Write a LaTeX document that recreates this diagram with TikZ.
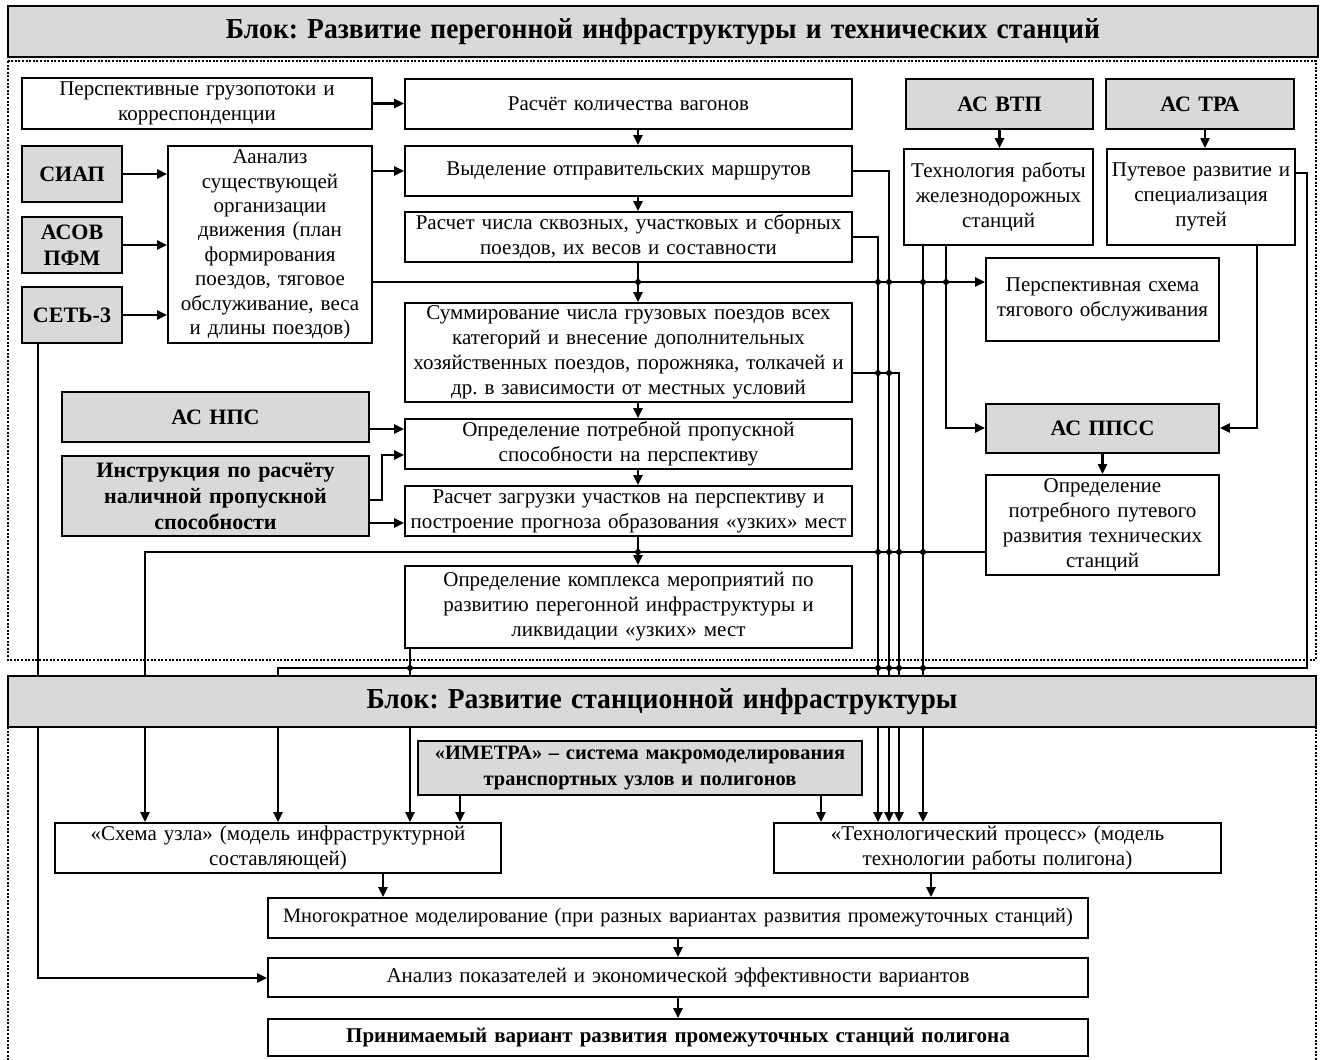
\documentclass[tikz,border=0pt]{standalone}
\usepackage{fontspec}
\setmainfont{Liberation Serif}
\usetikzlibrary{arrows.meta,backgrounds}
\definecolor{boxgray}{RGB}{217,217,217}

% rectangle node given by its corners: name, x1, y1, x2, y2, style, text
\newcommand\pbox[7]{%
  \pgfmathsetmacro\bw{(#4-#2)*0.5}%
  \pgfmathsetmacro\bh{(#5-#3)*0.5}%
  \pgfmathsetmacro\tw{(#4-#2)*0.5-2}%
  \node[#6, minimum width=\bw pt, minimum height=\bh pt, text width=\tw pt]
    (#1) at ({(#2+#4)/2},{(#3+#5)/2}) {#7};}
% slightly condensed title line
\newcommand\titleline[1]{\scalebox{0.95}[1]{#1}}

\tikzset{
  box/.style={draw, line width=0.9pt, fill=white, align=center, inner xsep=1pt, inner ysep=0pt,
    font=\fontsize{10.5}{12.5}\selectfont},
  gbox/.style={box, fill=boxgray, font=\bfseries\fontsize{11}{13}\selectfont},
  hdr/.style={box, line width=0.8pt, fill=boxgray, font=\bfseries\fontsize{14.5}{17}\selectfont},
  link/.style={line width=1.1pt},
  arr/.style={link, -{Triangle[length=5pt,width=4.5pt]}},
  frame/.style={line width=0.7pt, dash pattern=on 1pt off 0.8pt},
  jn/.style={fill, circle, inner sep=0pt, minimum size=3pt}
}

\begin{document}
\frenchspacing
\begin{tikzpicture}[x=0.5pt,y=-0.5pt]
\useasboundingbox (0,0) rectangle (1320,1059);

% ---------- block headers ----------
\pbox{h1}{8}{6}{1318}{57}{hdr}{\titleline{Блок: Развитие перегонной инфраструктуры и технических станций}}
\pbox{h2}{8}{676}{1316}{727}{hdr}{\titleline{Блок: Развитие станционной инфраструктуры}}

% ---------- upper block ----------
\pbox{pgp}{22}{78}{372}{129}{box}{Перспективные грузопотоки и\\корреспонденции}
\pbox{rkv}{405}{79}{852}{129}{box}{Расчёт количества вагонов}
\pbox{siap}{22}{146}{122}{202}{gbox}{СИАП}
\pbox{asov}{22}{217}{122}{273}{gbox}{АСОВ\\ПФМ}
\pbox{set3}{22}{287}{122}{343}{gbox}{СЕТЬ-3}
\pbox{anl}{168}{146}{372}{343}{box, font=\fontsize{10.5}{12.2}\selectfont}{Аанализ\\существующей\\организации\\движения (план\\формирования\\поездов, тяговое\\обслуживание, веса\\и длины поездов)}
\pbox{vyd}{405}{146}{852}{196}{box}{Выделение отправительских маршрутов}
\pbox{rch}{405}{212}{852}{262}{box}{Расчет числа сквозных, участковых и сборных\\поездов, их весов и составности}
\pbox{sum}{405}{303}{852}{402}{box}{Суммирование числа грузовых поездов всех\\категорий и внесение дополнительных\\хозяйственных поездов, порожняка, толкачей и\\др. в зависимости от местных условий}
\pbox{npc}{62}{392}{369}{442}{gbox}{АС НПС}
\pbox{instr}{62}{456}{369}{536}{gbox}{Инструкция по расчёту\\наличной пропускной\\способности}
\pbox{opp}{405}{419}{852}{469}{box}{Определение потребной пропускной\\способности на перспективу}
\pbox{rzg}{405}{486}{852}{536}{box}{Расчет загрузки участков на перспективу и\\построение прогноза образования «узких» мест}
\pbox{okm}{405}{566}{852}{648}{box}{Определение комплекса мероприятий по\\развитию перегонной инфраструктуры и\\ликвидации «узких» мест}
\pbox{vtp}{906}{79}{1093}{129}{gbox}{АС ВТП}
\pbox{tra}{1106}{79}{1294}{129}{gbox}{АС ТРА}
\pbox{trs}{904}{149}{1093}{245}{box}{Технология работы\\железнодорожных\\станций}
\pbox{ptr}{1107}{149}{1295}{245}{box}{Путевое развитие и\\специализация\\путей}
\pbox{pst}{986}{258}{1219}{341}{box}{Перспективная схема\\тягового обслуживания}
\pbox{ppss}{986}{404}{1219}{453}{gbox}{АС ППСС}
\pbox{opr}{986}{475}{1219}{575}{box}{Определение\\потребного путевого\\развития технических\\станций}

% ---------- lower block ----------
\pbox{imetra}{418}{741}{862}{795}{gbox, font=\bfseries\fontsize{10.2}{13}\selectfont}{«ИМЕТРА» – система макромоделирования\\транспортных узлов и полигонов}
\pbox{suz}{55}{823}{501}{873}{box}{«Схема узла» (модель инфраструктурной\\составляющей)}
\pbox{tpr}{774}{823}{1221}{873}{box}{«Технологический процесс» (модель\\технологии работы полигона)}
\pbox{mnm}{268}{898}{1088}{938}{box, font=\fontsize{10.2}{12}\selectfont}{Многократное моделирование (при разных вариантах развития промежуточных станций)}
\pbox{apk}{268}{958}{1088}{997}{box}{Анализ показателей и экономической эффективности вариантов}
\pbox{prv}{268}{1019}{1088}{1056}{box, font=\bfseries\fontsize{10.5}{12.5}\selectfont}{Принимаемый вариант развития промежуточных станций полигона}

\begin{pgfonlayer}{background}
% block frames
\draw[frame] (8,61) rectangle (1316,660);
\draw[frame] (8,727) rectangle (1316,1080);

% inputs on the left
\draw[arr] (pgp.east) -- (pgp.east -| rkv.west);
\draw[arr] (siap.east) -- (siap.east -| anl.west);
\draw[arr] (asov.east) -- (asov.east -| anl.west);
\draw[arr] (set3.east) -- (set3.east -| anl.west);
\draw[arr] (vyd.west -| anl.east) -- (vyd.west);
\draw[arr] (anl.east |- 0,282) -- (pst.west |- 0,282);
\draw[arr] (npc.east |- 0,429) -- (opp.west |- 0,429);
\draw[arr] (instr.east |- 0,500) -- (382,500) -- (382,455) -- (opp.west |- 0,455);
\draw[arr] (instr.east |- 0,523) -- (rzg.west |- 0,523);

% main column
\draw[arr] (rkv.south -| 638,0) -- (vyd.north -| 638,0);
\draw[arr] (vyd.south -| 638,0) -- (rch.north -| 638,0);
\draw[arr] (rch.south -| 638,0) -- (sum.north -| 638,0);
\draw[arr] (sum.south -| 638,0) -- (opp.north -| 638,0);
\draw[arr] (opp.south -| 638,0) -- (rzg.north -| 638,0);
\draw[arr] (rzg.south -| 638,0) -- (okm.north -| 638,0);

% bus to the process model
\draw[arr] (vyd.east |- 0,171) -- (889,171) -- (tpr.north -| 889,0);
\draw[arr] (rch.east |- 0,237) -- (878,237) -- (tpr.north -| 878,0);
\draw[arr] (sum.east |- 0,373) -- (899,373) -- (tpr.north -| 899,0);
\draw[arr] (trs.south -| 923,0) -- (tpr.north -| 923,0);

% station tracks branch
\draw[arr] (vtp.south) -- (trs.north -| vtp.south);
\draw[arr] (tra.south -| 1205,0) -- (ptr.north -| 1205,0);
\draw[arr] (trs.south -| 946,0) -- (946,428) -- (ppss.west |- 0,428);
\draw[arr] (ptr.south -| 1257,0) -- (1257,428) -- (ppss.east |- 0,428);
\draw[arr] (ppss.south) -- (opr.north);

% links into the node scheme
\draw[arr] (opr.west |- 0,552) -- (145,552) -- (suz.north -| 145,0);
\draw[arr] (ptr.east |- 0,173) -- (1307,173) -- (1307,668) -- (278,668) -- (suz.north -| 278,0);
\draw[arr] (okm.south -| 410,0) -- (suz.north -| 410,0);
\draw[arr] (imetra.south -| 460,0) -- (suz.north -| 460,0);
\draw[arr] (imetra.south -| 821,0) -- (tpr.north -| 821,0);
\draw[arr] (set3.south -| 38,0) -- (38,978) -- (apk.west |- 0,978);

% lower chain
\draw[arr] (suz.south -| 383,0) -- (mnm.north -| 383,0);
\draw[arr] (tpr.south -| 931,0) -- (mnm.north -| 931,0);
\draw[arr] (mnm.south -| 678,0) -- (apk.north -| 678,0);
\draw[arr] (apk.south -| 678,0) -- (prv.north -| 678,0);
\end{pgfonlayer}

% junction dots
\foreach \x in {638,878,889,923,946} \node[jn] (ja\x) at (\x,282) {};
\foreach \x in {878,889} \node[jn] (jb\x) at (\x,373) {};
\foreach \x in {638,878,889,899,923} \node[jn] (jc\x) at (\x,552) {};
\foreach \x in {410,878,889,899,923} \node[jn] (jd\x) at (\x,668) {};
\end{tikzpicture}
\end{document}
